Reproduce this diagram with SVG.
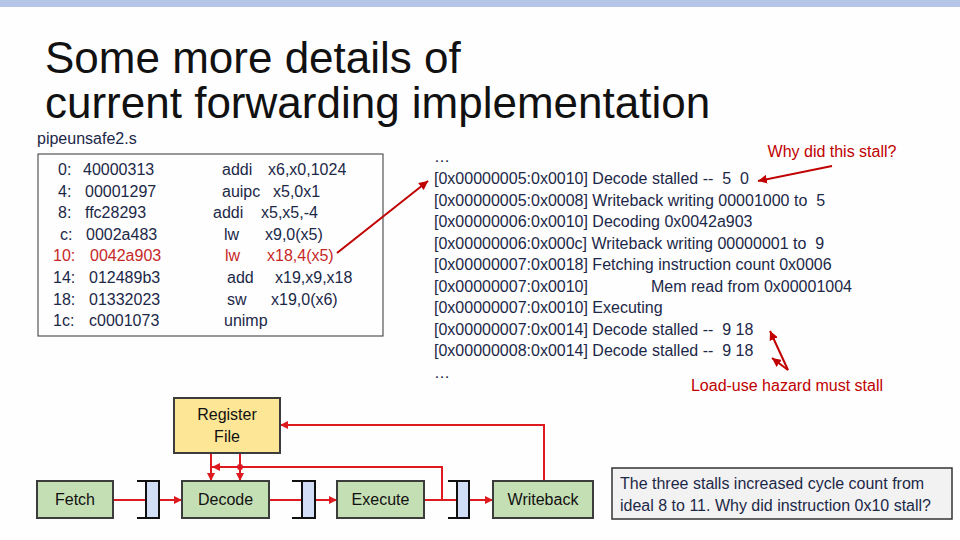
<svg xmlns="http://www.w3.org/2000/svg" width="960" height="540" viewBox="0 0 960 540">
<defs>
<style>
text{font-family:"Liberation Sans",Arial,sans-serif;white-space:pre;}
.title{font-size:44px;fill:#111;}
.t{font-size:16px;fill:#1c2848;}
.red{fill:#c62828;}
.ann{font-size:16px;fill:#c00000;}
.stage{fill:#c5dfb4;stroke:#3c3c3c;stroke-width:2;}
.latch{fill:#d2def5;stroke:#111;stroke-width:2;}
.tick{stroke:#111;stroke-width:2;}
.lbl{font-size:16px;fill:#111;text-anchor:middle;}
.wire{stroke:#dc1a1f;stroke-width:2;fill:none;}
.aw{stroke:#c00000;stroke-width:2;fill:none;}
</style>
<marker id="ah" viewBox="0 0 10 10" refX="10" refY="5" markerWidth="8" markerHeight="8" markerUnits="userSpaceOnUse" orient="auto">
<path d="M0,0 L10,5 L0,10 z" fill="#dc1a1f"/>
</marker>
<marker id="ahr" viewBox="0 0 10 10" refX="10" refY="5" markerWidth="9" markerHeight="9" markerUnits="userSpaceOnUse" orient="auto">
<path d="M0,0 L10,5 L0,10 z" fill="#c00000"/>
</marker>
</defs>
<rect x="0" y="0" width="960" height="540" fill="#fefefe"/>
<rect x="0" y="0" width="960" height="7" fill="#b4c5e7"/>

<g id="title">
<text class="title" x="45" y="73">Some more details of</text>
<text class="title" x="45" y="118">current forwarding implementation</text>
</g>

<g id="code">
<text class="t" x="37" y="144">pipeunsafe2.s</text>
<rect x="38" y="154" width="345" height="182" fill="#fefefe" stroke="#333" stroke-width="1"/>
<text class="t" x="58" y="175">0:</text><text class="t" x="83" y="175">40000313</text><text class="t" x="222" y="175">addi</text><text class="t" x="268" y="175">x6,x0,1024</text>
<text class="t" x="58" y="197">4:</text><text class="t" x="85" y="197">00001297</text><text class="t" x="222" y="197">auipc</text><text class="t" x="273" y="197">x5,0x1</text>
<text class="t" x="58" y="218">8:</text><text class="t" x="85" y="218">ffc28293</text><text class="t" x="213" y="218">addi</text><text class="t" x="261" y="218">x5,x5,-4</text>
<text class="t" x="60" y="240">c:</text><text class="t" x="86" y="240">0002a483</text><text class="t" x="224" y="240">lw</text><text class="t" x="265" y="240">x9,0(x5)</text>
<text class="t red" x="53" y="261">10:</text><text class="t red" x="90" y="261">0042a903</text><text class="t red" x="225" y="261">lw</text><text class="t red" x="267" y="261">x18,4(x5)</text>
<text class="t" x="53" y="283">14:</text><text class="t" x="89" y="283">012489b3</text><text class="t" x="227" y="283">add</text><text class="t" x="275" y="283">x19,x9,x18</text>
<text class="t" x="53" y="305">18:</text><text class="t" x="89" y="305">01332023</text><text class="t" x="227" y="305">sw</text><text class="t" x="271" y="305">x19,0(x6)</text>
<text class="t" x="53" y="326">1c:</text><text class="t" x="89" y="326">c0001073</text><text class="t" x="224" y="326">unimp</text>
</g>

<g id="log">
<text class="t" x="434" y="162">…</text>
<text class="t" x="434" y="184">[0x00000005:0x0010] Decode stalled --  5  0</text>
<text class="t" x="434" y="206">[0x00000005:0x0008] Writeback writing 00001000 to  5</text>
<text class="t" x="434" y="227">[0x00000006:0x0010] Decoding 0x0042a903</text>
<text class="t" x="434" y="249">[0x00000006:0x000c] Writeback writing 00000001 to  9</text>
<text class="t" x="434" y="270">[0x00000007:0x0018] Fetching instruction count 0x0006</text>
<text class="t" x="434" y="292">[0x00000007:0x0010]<tspan x="651">Mem read from 0x00001004</tspan></text>
<text class="t" x="434" y="313">[0x00000007:0x0010] Executing</text>
<text class="t" x="434" y="335">[0x00000007:0x0014] Decode stalled --  9 18</text>
<text class="t" x="434" y="356">[0x00000008:0x0014] Decode stalled --  9 18</text>
<text class="t" x="434" y="378">…</text>
</g>

<g id="annotations">
<text class="ann" x="832" y="157" text-anchor="middle">Why did this stall?</text>
<text class="ann" x="787" y="391" text-anchor="middle">Load-use hazard must stall</text>
<line class="aw" x1="337" y1="253" x2="428" y2="181" marker-end="url(#ahr)"/>
<line class="aw" x1="832" y1="166" x2="758" y2="181" marker-end="url(#ahr)"/>
<line class="aw" x1="788" y1="370" x2="770" y2="331" marker-end="url(#ahr)"/>
<line class="aw" x1="788" y1="370" x2="772" y2="358" marker-end="url(#ahr)"/>
</g>

<g id="connectors">
<line class="wire" x1="113" y1="500" x2="146" y2="500"/>
<line class="wire" x1="159" y1="500" x2="182" y2="500" marker-end="url(#ah)"/>
<line class="wire" x1="269" y1="500" x2="302" y2="500"/>
<line class="wire" x1="315" y1="500" x2="337" y2="500" marker-end="url(#ah)"/>
<line class="wire" x1="424" y1="500" x2="457" y2="500"/>
<line class="wire" x1="469" y1="500" x2="493" y2="500" marker-end="url(#ah)"/>
<line class="wire" x1="211" y1="453" x2="211" y2="481" marker-end="url(#ah)"/>
<line class="wire" x1="240" y1="453" x2="240" y2="481" marker-end="url(#ah)"/>
<polyline class="wire" points="442,500 442,467 212,467" marker-end="url(#ah)"/>
<circle cx="240" cy="467" r="3" fill="#dc1a1f"/>
<polyline class="wire" points="544,481 544,425 280,425" marker-end="url(#ah)"/>
</g>

<g id="latch1"><line class="tick" x1="137" y1="481" x2="146" y2="481"/><line class="tick" x1="137" y1="518" x2="146" y2="518"/><rect class="latch" x="146" y="481" width="13" height="37"/></g>
<g id="latch2"><line class="tick" x1="292" y1="481" x2="302" y2="481"/><line class="tick" x1="292" y1="518" x2="302" y2="518"/><rect class="latch" x="302" y="481" width="13" height="37"/></g>
<g id="latch3"><line class="tick" x1="448" y1="481" x2="457" y2="481"/><line class="tick" x1="448" y1="518" x2="457" y2="518"/><rect class="latch" x="457" y="481" width="12" height="37"/></g>

<g id="regfile"><rect x="174" y="398" width="106" height="55" fill="#fde796" stroke="#3c3c3c" stroke-width="2"/><text class="lbl" x="227" y="420">Register</text><text class="lbl" x="227" y="442">File</text></g>
<g id="fetch"><rect class="stage" x="37" y="481" width="76" height="37"/><text class="lbl" x="75" y="505">Fetch</text></g>
<g id="decode"><rect class="stage" x="182" y="481" width="87" height="37"/><text class="lbl" x="225.5" y="505">Decode</text></g>
<g id="execute"><rect class="stage" x="337" y="481" width="87" height="37"/><text class="lbl" x="380.5" y="505">Execute</text></g>
<g id="writeback"><rect class="stage" x="493" y="481" width="100" height="37"/><text class="lbl" x="543" y="505">Writeback</text></g>

<g id="note"><rect x="612" y="468" width="340" height="51" fill="#f2f2f2" stroke="#333" stroke-width="1.5"/>
<text class="t" x="620" y="489">The three stalls increased cycle count from</text>
<text class="t" x="620" y="511">ideal 8 to 11. Why did instruction 0x10 stall?</text></g>
</svg>
